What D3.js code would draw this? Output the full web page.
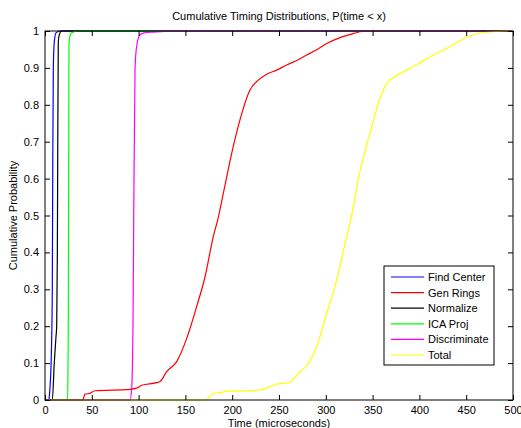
<!DOCTYPE html>
<html><head><meta charset="utf-8">
<script src="https://cdn.jsdelivr.net/npm/d3@7"></script>
<style>body{margin:0;background:#fff}svg{display:block}text{font-family:"Liberation Sans",Arial,sans-serif}</style>
</head><body>
<script>
const xTicks = [0,50,100,150,200,250,300,350,400,450,500];
const yTicks = [0,0.1,0.2,0.3,0.4,0.5,0.6,0.7,0.8,0.9,1];
const seriesNames = ["Find Center","Gen Rings","Normalize","ICA Proj","Discriminate","Total"];
const seriesColors = ["#0000ff","#ff0000","#000000","#00ff00","#ff00ff","#ffff00"];

const findCenterX = [0,4.3,4.6,5.5,7.0,7.8,8.3,8.9,9.9,11.7,16,500];
const findCenterY = [0,0,0.01,0.04,0.15,0.3,0.64,0.9,0.97,0.995,1,1];
const genRingsX = [0,40.2,42.7,48,53.4,90.8,98,103.3,119.3,123,130,140.7,151.4,162,171,179.8,184.5,190.5,199.4,208.3,219,227.9,236.9,247.5,258.2,268.9,279.6,290.3,301,315.2,329.4,336.5,345,500];
const genRingsY = [0,0,0.016,0.018,0.025,0.029,0.032,0.04,0.047,0.05,0.077,0.104,0.167,0.253,0.334,0.443,0.488,0.56,0.668,0.759,0.84,0.867,0.883,0.894,0.908,0.92,0.935,0.949,0.966,0.982,0.993,0.998,1,1];
const normalizeX = [0,7.8,9.9,11.7,12.5,13.2,13.5,14.2,15.3,17.8,500];
const normalizeY = [0,0,0.1,0.17,0.2,0.4,0.6,0.97,0.99,1,1];
const icaProjX = [0,24.2,24.6,24.9,25.3,25.6,26.5,27.5,30,35,500];
const icaProjY = [0,0,0.1,0.2,0.6,0.96,0.985,0.993,0.997,1,1];
const discriminateX = [0,90.8,92.6,94,94.8,96.2,98,101.5,106,115,150,500];
const discriminateY = [0,0,0.03,0.2,0.5,0.9,0.96,0.99,0.995,0.997,1,1];
const totalX = [0,172.7,178.1,187,197.6,215.5,235,245.7,261.8,270.7,281.4,290.3,301,311.6,322.3,326.6,336.5,347.2,356.1,365,373.9,386.4,400.6,414.9,429.2,439.8,450.5,464.7,478.9,489.6,500];
const totalY = [0,0,0.016,0.02,0.025,0.025,0.03,0.042,0.048,0.072,0.099,0.145,0.235,0.325,0.443,0.488,0.62,0.723,0.804,0.858,0.876,0.894,0.914,0.935,0.953,0.968,0.983,0.994,0.998,1,1];

const seriesX = [findCenterX,genRingsX,normalizeX,icaProjX,discriminateX,totalX];
const seriesY = [findCenterY,genRingsY,normalizeY,icaProjY,discriminateY,totalY];

const W=521,H=428;
const L=45,R=513,T=31,B=400;
const svg=d3.select("body").append("svg").attr("width",W).attr("height",H);
const x=d3.scaleLinear().domain([0,500]).range([L,R]);
const y=d3.scaleLinear().domain([0,1]).range([B,T]);

svg.append("rect").attr("x",L).attr("y",T).attr("width",R-L).attr("height",B-T).attr("fill","#fff");

svg.append("defs").append("clipPath").attr("id","clip").append("rect")
  .attr("x",L).attr("y",T-1).attr("width",R-L).attr("height",B-T+2);

const line=d3.line().x(d=>x(d[0])).y(d=>y(d[1])).curve(d3.curveMonotoneX);
const g=svg.append("g").attr("clip-path","url(#clip)");
seriesX.forEach((xs,i)=>{
  const pts=xs.map((v,j)=>[v,seriesY[i][j]]);
  g.append("path").attr("d",line(pts)).attr("fill","none")
   .attr("stroke",seriesColors[i]).attr("stroke-width",1.2);
});

const fmt=d=>d3.format("")(+d.toFixed(1));
const ax=svg.append("g").attr("transform",`translate(0,${B})`)
  .call(d3.axisBottom(x).tickValues(xTicks).tickSize(-5).tickPadding(6).tickFormat(d3.format("d")));
const axT=svg.append("g").attr("transform",`translate(0,${T})`)
  .call(d3.axisTop(x).tickValues(xTicks).tickSize(-5).tickFormat(""));
const ay=svg.append("g").attr("transform",`translate(${L},0)`)
  .call(d3.axisLeft(y).tickValues(yTicks).tickSize(-5).tickPadding(6).tickFormat(fmt));
const ayR=svg.append("g").attr("transform",`translate(${R},0)`)
  .call(d3.axisRight(y).tickValues(yTicks).tickSize(-5).tickFormat(""));
[ax,axT,ay,ayR].forEach(a=>{
  a.select(".domain").remove();
  a.selectAll("line").attr("stroke","#000");
  a.selectAll("text").attr("font-size",11).attr("fill","#000").style("font-family","'Liberation Sans',Arial,sans-serif");
});
svg.append("rect").attr("x",L).attr("y",T).attr("width",R-L).attr("height",B-T)
  .attr("fill","none").attr("stroke","#000").attr("stroke-width",1);

svg.append("text").attr("x",(L+R)/2).attr("y",20).attr("text-anchor","middle")
  .attr("font-size",11).text("Cumulative Timing Distributions, P(time < x)");
svg.append("text").attr("x",(L+R)/2).attr("y",427).attr("text-anchor","middle")
  .attr("font-size",11).text("Time (microseconds)");
svg.append("text").attr("transform",`translate(17,${(T+B)/2}) rotate(-90)`).attr("text-anchor","middle")
  .attr("font-size",11).text("Cumulative Probability");

const lg=svg.append("g");
lg.append("rect").attr("x",384).attr("y",266).attr("width",110).attr("height",99)
  .attr("fill","#fff").attr("stroke","#000").attr("stroke-width",1);
seriesNames.forEach((n,i)=>{
  const yy=277+i*15.6;
  lg.append("line").attr("x1",391).attr("x2",424).attr("y1",yy).attr("y2",yy)
    .attr("stroke",seriesColors[i]).attr("stroke-width",1.2);
  lg.append("text").attr("x",428).attr("y",yy+4).attr("font-size",11).text(n);
});
</script>
</body></html>
